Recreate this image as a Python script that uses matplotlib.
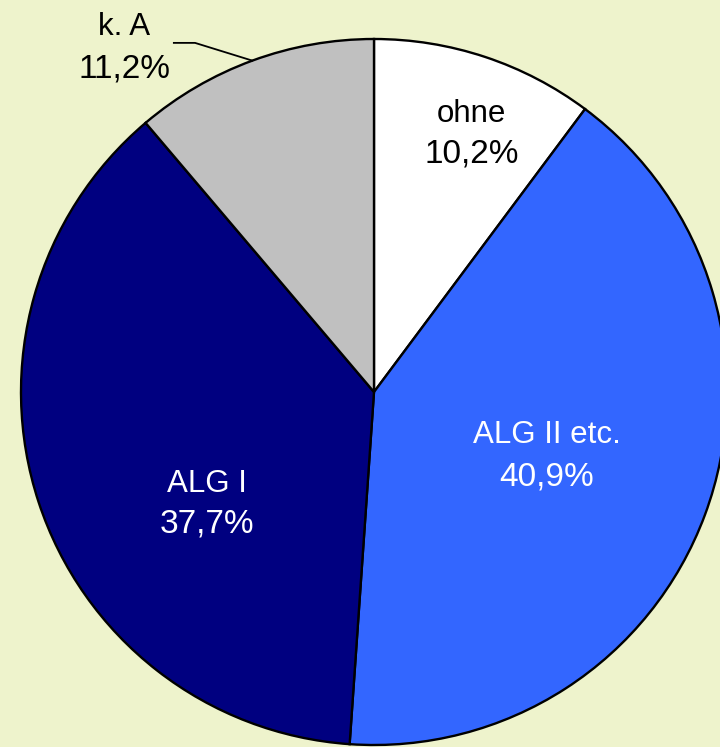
import numpy as np
import matplotlib
matplotlib.use("Agg")
import matplotlib.pyplot as plt

# =========================
# DATA
# =========================
labels = ["ohne", "ALG II etc.", "ALG I", "k. A"]
shares = [10.2, 40.9, 37.7, 11.2]
colors = ["#FFFFFF", "#3366FF", "#000080", "#C0C0C0"]
text_colors = ["black", "white", "white", "black"]

# label anchor (x, baseline of name, baseline of pct) in pie units (radius = 1)
label_pos = [
    (0.276, 0.765, 0.649),
    (0.489, -0.1445, -0.266),
    (-0.474, -0.283, -0.399),
    (-0.708, 1.011, 0.892),
]

plt.rcParams['font.family'] = ['Liberation Sans', 'DejaVu Sans']

fig = plt.figure(figsize=(7.2, 7.47), dpi=100)
fig.patch.set_facecolor("#EEF3CC")
ax = fig.add_axes([0, 0, 1, 1])
ax.set_facecolor("#EEF3CC")

wedges, _ = ax.pie(shares, colors=colors, startangle=90, counterclock=False,
                   wedgeprops=dict(edgecolor="black", linewidth=1.7))

for (name, val, tc, (x, yn, yp)) in zip(labels, shares, text_colors, label_pos):
    pct = f"{val:.1f}%".replace(".", ",")
    ax.text(x, yn, name, ha="center", va="baseline", fontsize=22.5, color=tc)
    ax.text(x, yp, pct, ha="center", va="baseline", fontsize=24, color=tc)

# leader line for "k. A"
w = wedges[3]
mid = np.deg2rad((w.theta1 + w.theta2) / 2)
ax.plot([-0.567, -0.507, np.cos(mid)], [0.989, 0.989, np.sin(mid)],
        color="black", linewidth=1.3)

# pie center at pixel (374, 392), radius 353 px
ax.set_xlim((0 - 374) / 353, (720 - 374) / 353)
ax.set_ylim((392 - 747) / 353, 392 / 353)
ax.set_aspect("auto")
ax.axis("off")

fig.savefig("out.png", dpi=100, facecolor=fig.get_facecolor())
